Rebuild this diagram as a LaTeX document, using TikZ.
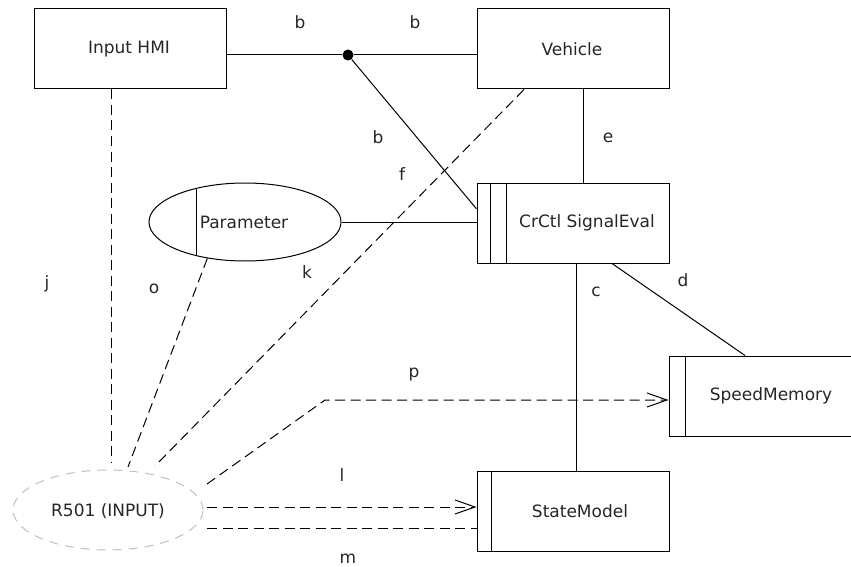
\documentclass[tikz,border=0pt]{standalone}
\usepackage{fontspec}
\setmainfont{DejaVu Sans}
\usetikzlibrary{arrows.meta,calc,shapes.geometric}
\begin{document}
\begin{tikzpicture}[x=1pt,y=-1pt,
  box/.style={draw,line width=1pt,minimum width=192pt,minimum height=80pt,inner sep=0pt},
  txt/.style={font=\fontsize{17}{20}\selectfont,inner sep=0pt,text=black!85},
  lbl/.style={font=\fontsize{17}{20}\selectfont,inner sep=0pt,text=black!85},
  conn/.style={line width=1pt},
  dep/.style={line width=1pt,dash pattern=on 10pt off 5.5pt},
  arr/.style={-{Straight Barb[length=20pt,width=14pt,line width=1pt]}}
]
\useasboundingbox (0,0) rectangle (851,567);
% nodes
\node[box] (hmi) at (130.5,49) {};
\node[txt] (thmi) at (129,49) {Input HMI};
\node[box] (veh) at (573,49) {};
\node[txt] (tveh) at (572,49) {Vehicle};
\node[box] (crctl) at (573,223) {};
\draw[line width=1pt] ($(crctl.north west)+(14,0)$) -- ($(crctl.south west)+(14,0)$);
\draw[line width=1pt] ($(crctl.north west)+(30,0)$) -- ($(crctl.south west)+(30,0)$);
\node[txt] (tcrctl) at (587,223) {CrCtl SignalEval};
\node[box] (spd) at (765,396) {};
\draw[line width=1pt] ($(spd.north west)+(17,0)$) -- ($(spd.south west)+(17,0)$);
\node[txt] (tspd) at (771,396) {SpeedMemory};
\node[box] (sm) at (573,511) {};
\draw[line width=1pt] ($(sm.north west)+(15,0)$) -- ($(sm.south west)+(15,0)$);
\node[txt] (tsm) at (580,511) {StateModel};
\node[draw,ellipse,line width=1pt,minimum width=192pt,minimum height=78pt,inner sep=0pt] (param) at (245,222) {};
\draw[line width=1pt] (196,188.5) -- (196,255.5);
\node[txt] (tparam) at (244,222) {Parameter};
\node[draw=black!25,ellipse,line width=1pt,dash pattern=on 9pt off 7pt,minimum width=190pt,minimum height=80pt,inner sep=0pt] (r501) at (108,510) {};
\node[txt] (tr501) at (108,511) {R501 (INPUT)};
\node[circle,fill,inner sep=0pt,minimum size=11pt] (dot) at (348,55) {};
% solid connectors
\draw[conn] (hmi.east |- dot) -- (dot) -- (veh.west |- dot);
\draw[conn] (dot) -- ($(crctl.north west)!0.325!(crctl.south west)$);
\coordinate (ve) at ($(veh.south)+(10,0)$);
\draw[conn] (ve) -- (ve |- crctl.north);
\draw[conn] (param.east) -- (param.east -| crctl.west);
\coordinate (cs) at ($(crctl.south)+(3,0)$);
\draw[conn] (cs) -- (cs |- sm.north);
\coordinate (cd) at ($(crctl.south)+(39,0)$);
\coordinate (sd) at ($(spd.north)+(-20,0)$);
\draw[conn] (cd) -- (sd);
% dashed connectors
\coordinate (jt) at ($(hmi.south)+(-19.5,0)$);
\coordinate (je) at (111,462);
\draw[dep] (jt) -- (je);
\coordinate (oe) at (128,467);
\draw[dep] (param.224) -- (oe);
\coordinate (kt) at ($(veh.south)+(-49,0)$);
\coordinate (ke) at (155,466);
\draw[dep] (kt) -- (ke);
\coordinate (p0) at (207,484);
\coordinate (p1) at (325,400);
\draw[dep,arr] (p0) -- (p1) -- (p1 -| spd.west);
\coordinate (l0) at (207,507);
\draw[dep,arr] (l0) -- (l0 -| sm.west);
\coordinate (m0) at (207,528);
\draw[dep] (m0) -- (m0 -| sm.west);
% labels
\node[lbl] (lb1) at (300,22) {b};
\node[lbl] (lb2) at (415,22) {b};
\node[lbl] (lb3) at (378,137) {b};
\node[lbl] (lf) at (402,174) {f};
\node[lbl] (le) at (608,138) {e};
\node[lbl] (lc) at (596,292) {c};
\node[lbl] (ld) at (683,280) {d};
\node[lbl] (lj) at (47,284) {j};
\node[lbl] (lo) at (154,289) {o};
\node[lbl] (lk) at (307,272) {k};
\node[lbl] (lp) at (414,375) {p};
\node[lbl] (ll) at (342,475) {l};
\node[lbl] (lm) at (348,559) {m};
\end{tikzpicture}
\end{document}
